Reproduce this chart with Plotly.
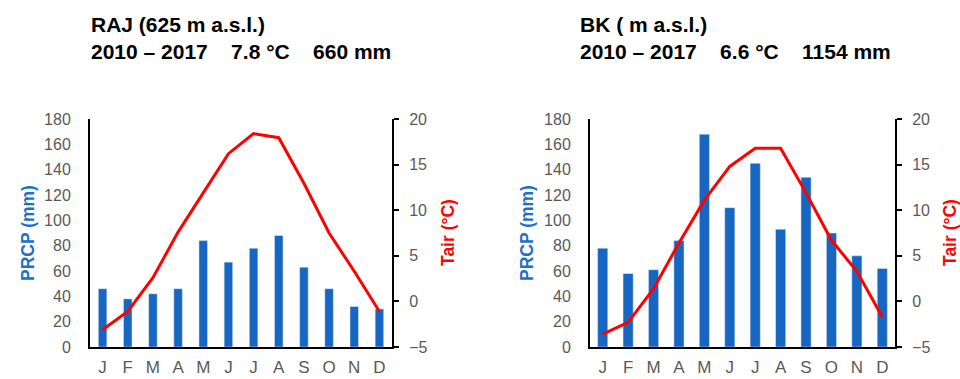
import plotly.graph_objects as go

months = ["J", "F", "M", "A", "M", "J", "J", "A", "S", "O", "N", "D"]

raj_prcp = [46, 38, 42, 46, 84, 67, 78, 88, 63, 46, 32, 30]
raj_tair = [-3.1, -1.1, 2.6, 7.6, 11.9, 16.2, 18.4, 17.95, 12.95, 7.5, 3.3, -1.1]

bk_prcp = [78, 58, 61, 84, 168, 110, 145, 93, 134, 90, 72, 62]
bk_tair = [-3.6, -2.3, 1.4, 6.4, 11.1, 14.8, 16.8, 16.8, 11.9, 6.7, 3.3, -1.7]

SP = "\u00a0\u00a0\u00a0\u00a0"
raj_title = ["RAJ (625 m a.s.l.)", "2010 – 2017" + SP + "7.8 °C" + SP + "660 mm"]
bk_title = ["BK ( m a.s.l.)", "2010 – 2017" + SP + "6.6 °C" + SP + "1154 mm"]

prcp_range = [0, 180]
tair_range = [-5, 20]

W, H = 960, 379
FONT = "Liberation Sans, Arial, sans-serif"
BAR = "#1767c2"
RED = "#ff0000"
GRAY = "#595959"

xi = list(range(12))

fig = go.Figure()
fig.add_trace(go.Bar(x=xi, y=raj_prcp, marker_color=BAR, width=0.34, xaxis="x", yaxis="y", showlegend=False))
fig.add_trace(go.Scatter(x=xi, y=raj_tair, mode="lines", line=dict(color=RED, width=3), xaxis="x", yaxis="y2", showlegend=False))
fig.add_trace(go.Bar(x=xi, y=bk_prcp, marker_color=BAR, width=0.4, xaxis="x2", yaxis="y3", showlegend=False))
fig.add_trace(go.Scatter(x=xi, y=bk_tair, mode="lines", line=dict(color=RED, width=3), xaxis="x2", yaxis="y4", showlegend=False))

ydom = [(H - 347) / H, (H - 119) / H]
xd1 = [90 / W, 392 / W]
xd2 = [590 / W, 895 / W]

def xax(dom, anchor):
    return dict(domain=dom, anchor=anchor, range=[-0.5, 11.5], tickvals=xi, ticktext=months,
                showline=True, linecolor="black", linewidth=2, showgrid=False, zeroline=False,
                ticks="", tickfont=dict(size=17, color=GRAY, family=FONT), ticklabelstandoff=4,
                fixedrange=True, automargin=False)

def yleft(anchor):
    return dict(domain=ydom, anchor=anchor, range=prcp_range, dtick=20, showline=True,
                linecolor="black", linewidth=2, showgrid=False, zeroline=False, ticks="",
                tickfont=dict(size=16, color=GRAY, family=FONT), ticklabelstandoff=14,
                automargin=False)

def yright(anchor, over):
    return dict(domain=ydom, anchor=anchor, overlaying=over, side="right", range=tair_range, dtick=5,
                showline=True, linecolor="black", linewidth=2, showgrid=False, zeroline=False,
                ticks="outside", ticklen=5, tickwidth=2, tickcolor="black",
                tickfont=dict(size=16, color=GRAY, family=FONT), ticklabelstandoff=7,
                automargin=False)

annotations = []
for x0, lines in [(89, raj_title), (578, bk_title)]:
    for i, t in enumerate(lines):
        annotations.append(dict(text="<b>%s</b>" % t, x=x0 / W, y=1 - (24 + 27 * i) / H,
                                xref="paper", yref="paper", xanchor="left", yanchor="middle",
                                showarrow=False, font=dict(size=21, color="black", family=FONT)))
ymid = 1 - 233 / H
for xc, txt, col in [(28, "PRCP (mm)", "#1e6fc8"), (448, "Tair (°C)", RED),
                     (527, "PRCP (mm)", "#1e6fc8"), (950, "Tair (°C)", RED)]:
    annotations.append(dict(text="<b>%s</b>" % txt, x=xc / W, y=ymid, xref="paper", yref="paper",
                            xanchor="center", yanchor="middle", textangle=-90, showarrow=False,
                            font=dict(size=17.5, color=col, family=FONT)))

fig.update_layout(
    width=W, height=H, margin=dict(l=0, r=0, t=0, b=0, autoexpand=False),
    paper_bgcolor="white", plot_bgcolor="white",
    font=dict(family=FONT),
    xaxis=xax(xd1, "y"), yaxis=yleft("x"), yaxis2=yright("x", "y"),
    xaxis2=xax(xd2, "y3"), yaxis3=yleft("x2"), yaxis4=yright("x2", "y3"),
    annotations=annotations, barmode="overlay",
)

fig.write_html("out.html", post_script="document.body.style.margin='0';document.body.style.overflow='hidden';")
